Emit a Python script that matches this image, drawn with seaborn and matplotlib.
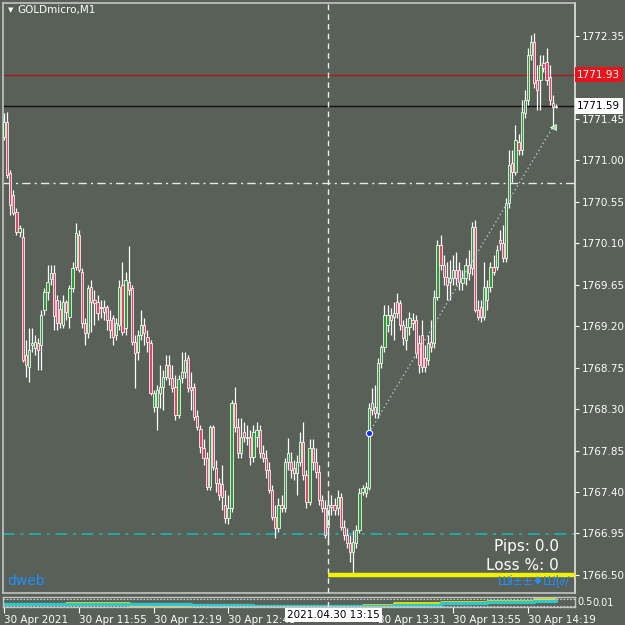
import matplotlib
matplotlib.use("Agg")
import matplotlib.pyplot as plt
import numpy as np
import pandas as pd
import seaborn as sns

# ---- candle data (GOLDmicro, M1, 30 Apr 2021 from 11:31) ----
opens = [
    1771.25, 1771.42, 1770.86, 1770.62, 1770.44, 1770.22, 1770.17, 1768.89, 1768.76, 1769.00,
    1768.96, 1769.02, 1769.00, 1769.38, 1769.57, 1769.71, 1769.78, 1769.48, 1769.39, 1769.21,
    1769.46, 1769.30, 1769.61, 1769.84, 1770.19, 1769.79, 1769.23, 1769.13, 1769.63, 1769.48,
    1769.46, 1769.41, 1769.41, 1769.41, 1769.27, 1769.29, 1769.10, 1769.21, 1769.65, 1769.18,
    1769.68, 1769.61, 1769.03, 1768.92, 1769.10, 1769.21, 1769.08, 1769.02, 1768.32, 1768.32,
    1768.47, 1768.54, 1768.65, 1768.78, 1768.64, 1768.54, 1768.24, 1768.64, 1768.70, 1768.85,
    1768.54, 1768.54, 1768.23, 1768.08, 1767.88, 1767.77, 1767.45, 1768.11, 1767.66, 1767.50,
    1767.49, 1767.26, 1767.12, 1767.23, 1768.37, 1768.11, 1767.82, 1768.05, 1768.00, 1768.00,
    1767.78, 1768.00, 1768.07, 1767.82, 1767.77, 1767.64, 1767.42, 1767.13, 1767.01, 1767.26,
    1767.23, 1767.73, 1767.73, 1767.66, 1767.61, 1767.73, 1767.94, 1767.59, 1767.29, 1767.88,
    1767.73, 1767.62, 1767.31, 1767.23, 1767.02, 1767.26, 1767.26, 1767.23, 1767.35, 1767.02,
    1766.93, 1766.85, 1766.75, 1766.85, 1766.99, 1767.40, 1767.39, 1767.44, 1768.29, 1768.32,
    1768.26, 1768.80, 1768.97, 1769.21, 1769.32, 1769.30, 1769.46, 1769.45, 1769.21, 1769.05,
    1769.19, 1769.27, 1769.27, 1769.02, 1769.10, 1768.85, 1768.83, 1769.03, 1769.02, 1769.52,
    1770.08, 1769.86, 1769.73, 1769.68, 1769.72, 1769.81, 1769.81, 1769.67, 1769.72, 1769.86,
    1769.83, 1770.28, 1769.38, 1769.41, 1769.30, 1769.48, 1769.63, 1769.84, 1769.84, 1770.14,
    1770.10, 1769.94, 1770.54, 1770.97, 1770.87, 1771.20, 1771.11, 1771.51, 1771.65, 1772.14,
    1772.28, 1771.87, 1771.87, 1772.06, 1772.07, 1771.90, 1771.62, 1771.58,
]
closes = [
    1771.42, 1770.84, 1770.52, 1770.43, 1770.22, 1770.27, 1768.83, 1768.78, 1768.94, 1769.02,
    1769.03, 1768.94, 1769.32, 1769.57, 1769.68, 1769.78, 1769.31, 1769.23, 1769.23, 1769.46,
    1769.35, 1769.61, 1769.83, 1770.21, 1769.81, 1769.23, 1769.13, 1769.61, 1769.46, 1769.45,
    1769.34, 1769.40, 1769.35, 1769.27, 1769.16, 1769.08, 1769.23, 1769.63, 1769.14, 1769.70,
    1769.59, 1769.03, 1768.91, 1769.10, 1769.21, 1769.13, 1769.03, 1768.47, 1768.47, 1768.51,
    1768.54, 1768.65, 1768.78, 1768.64, 1768.53, 1768.24, 1768.63, 1768.70, 1768.83, 1768.53,
    1768.51, 1768.21, 1768.11, 1767.89, 1767.77, 1767.45, 1768.11, 1767.67, 1767.50, 1767.37,
    1767.35, 1767.12, 1767.23, 1768.37, 1768.11, 1767.82, 1768.00, 1768.00, 1767.99, 1767.78,
    1768.05, 1768.07, 1767.82, 1767.77, 1767.64, 1767.42, 1767.13, 1767.01, 1767.26, 1767.23,
    1767.73, 1767.82, 1767.64, 1767.61, 1767.73, 1767.94, 1767.59, 1767.29, 1767.88, 1767.73,
    1767.62, 1767.31, 1767.23, 1766.93, 1767.26, 1767.24, 1767.21, 1767.35, 1767.02, 1766.93,
    1766.85, 1766.75, 1766.86, 1766.99, 1767.39, 1767.44, 1767.45, 1768.31, 1768.37, 1768.26,
    1768.80, 1768.97, 1769.32, 1769.32, 1769.27, 1769.34, 1769.34, 1769.21, 1769.07, 1769.19,
    1769.29, 1769.23, 1768.91, 1768.78, 1768.76, 1768.76, 1769.02, 1768.97, 1769.52, 1770.08,
    1769.86, 1769.73, 1769.65, 1769.72, 1769.81, 1769.72, 1769.68, 1769.72, 1769.86, 1769.78,
    1770.28, 1769.38, 1769.30, 1769.30, 1769.63, 1769.63, 1769.84, 1769.79, 1770.03, 1770.10,
    1769.94, 1770.54, 1770.95, 1770.87, 1771.22, 1771.11, 1771.52, 1771.65, 1772.14, 1772.28,
    1771.84, 1771.76, 1772.03, 1772.00, 1771.87, 1771.65, 1771.58, 1771.59,
]
highs = [
    1771.51, 1771.52, 1770.90, 1770.68, 1770.48, 1770.30, 1770.27, 1769.05, 1769.18, 1769.18,
    1769.10, 1769.07, 1769.38, 1769.61, 1769.86, 1769.86, 1769.86, 1769.54, 1769.48, 1769.54,
    1769.48, 1769.65, 1769.90, 1770.32, 1770.24, 1769.83, 1769.29, 1769.65, 1769.70, 1769.59,
    1769.54, 1769.48, 1769.48, 1769.43, 1769.38, 1769.32, 1769.29, 1769.70, 1769.90, 1769.79,
    1770.07, 1769.65, 1769.10, 1769.16, 1769.38, 1769.29, 1769.16, 1769.05, 1768.51, 1768.56,
    1768.78, 1768.72, 1768.89, 1768.89, 1768.78, 1768.67, 1768.67, 1768.92, 1768.92, 1768.89,
    1768.70, 1768.58, 1768.29, 1768.13, 1767.97, 1767.83, 1768.13, 1768.13, 1767.75, 1767.55,
    1767.69, 1767.42, 1767.37, 1768.40, 1768.54, 1768.20, 1768.20, 1768.16, 1768.13, 1768.07,
    1768.13, 1768.16, 1768.13, 1767.91, 1767.86, 1767.73, 1767.48, 1767.26, 1767.34, 1767.37,
    1767.77, 1767.99, 1767.83, 1767.75, 1767.80, 1768.05, 1768.16, 1767.64, 1767.97, 1767.97,
    1767.88, 1767.69, 1767.37, 1767.31, 1767.37, 1767.37, 1767.34, 1767.42, 1767.39, 1767.10,
    1767.01, 1766.93, 1766.99, 1767.04, 1767.44, 1767.48, 1767.51, 1768.37, 1768.53, 1768.56,
    1768.85, 1769.00, 1769.43, 1769.43, 1769.40, 1769.46, 1769.56, 1769.48, 1769.27, 1769.29,
    1769.35, 1769.34, 1769.32, 1769.10, 1769.27, 1769.00, 1769.10, 1769.27, 1769.59, 1770.14,
    1770.19, 1769.97, 1769.90, 1769.92, 1769.97, 1770.01, 1769.90, 1769.81, 1769.94, 1770.03,
    1770.33, 1770.35, 1769.48, 1769.48, 1769.90, 1769.70, 1769.90, 1769.97, 1770.08, 1770.24,
    1770.30, 1770.59, 1771.11, 1771.11, 1771.38, 1771.28, 1771.65, 1771.76, 1772.22, 1772.36,
    1772.38, 1772.03, 1772.14, 1772.14, 1772.22, 1772.03, 1771.71, 1771.61,
]
lows = [
    1771.22, 1770.81, 1770.41, 1770.41, 1770.19, 1770.17, 1768.81, 1768.65, 1768.59, 1768.92,
    1768.89, 1768.72, 1768.72, 1769.32, 1769.48, 1769.65, 1769.16, 1769.16, 1769.18, 1769.18,
    1769.27, 1769.18, 1769.57, 1769.81, 1769.79, 1769.18, 1769.00, 1769.07, 1769.14, 1769.21,
    1769.27, 1769.29, 1769.27, 1769.16, 1769.07, 1769.00, 1769.05, 1769.16, 1769.10, 1769.10,
    1769.54, 1769.00, 1768.53, 1768.83, 1769.05, 1769.00, 1768.92, 1768.45, 1768.27, 1768.07,
    1768.31, 1768.29, 1768.62, 1768.56, 1768.49, 1768.18, 1768.20, 1768.58, 1768.64, 1768.49,
    1768.29, 1768.18, 1768.07, 1767.82, 1767.69, 1767.42, 1767.42, 1767.64, 1767.40, 1767.31,
    1767.21, 1767.06, 1767.05, 1767.18, 1768.05, 1767.77, 1767.77, 1767.94, 1767.91, 1767.69,
    1767.73, 1767.89, 1767.77, 1767.73, 1767.55, 1767.39, 1767.10, 1766.90, 1766.97, 1767.18,
    1767.18, 1767.64, 1767.55, 1767.53, 1767.37, 1767.68, 1767.53, 1767.23, 1767.26, 1767.64,
    1767.55, 1767.26, 1767.18, 1766.90, 1766.83, 1767.15, 1767.15, 1767.15, 1766.99, 1766.88,
    1766.79, 1766.64, 1766.52, 1766.79, 1766.96, 1767.37, 1767.35, 1767.42, 1768.24, 1768.20,
    1768.20, 1768.75, 1768.92, 1769.14, 1769.10, 1769.05, 1769.29, 1769.16, 1769.00, 1768.94,
    1769.10, 1769.16, 1768.85, 1768.69, 1768.70, 1768.70, 1768.78, 1768.92, 1768.96, 1769.48,
    1769.81, 1769.65, 1769.48, 1769.48, 1769.65, 1769.65, 1769.59, 1769.59, 1769.65, 1769.70,
    1769.76, 1769.35, 1769.27, 1769.25, 1769.27, 1769.38, 1769.57, 1769.75, 1769.81, 1770.03,
    1769.90, 1769.90, 1770.48, 1770.76, 1770.84, 1771.06, 1771.06, 1771.46, 1771.60, 1772.09,
    1771.78, 1771.55, 1771.55, 1771.96, 1771.82, 1771.60, 1771.35, 1771.57,
]
start_time = "2021-04-30 11:31"

# time axis labels
tick_times = ["11:31", "11:55", "12:19", "12:43", "13:31", "13:55", "14:19"]
tick_labels = ["30 Apr 2021", "30 Apr 11:55", "30 Apr 12:19", "30 Apr 12:43",
               "30 Apr 13:31", "30 Apr 13:55", "30 Apr 14:19"]
price_ticks = [1766.50, 1766.95, 1767.40, 1767.85, 1768.30, 1768.75, 1769.20,
               1769.65, 1770.10, 1770.55, 1771.00, 1771.45, 1771.90, 1772.35]

# chart objects
vline_time = "13:15"
ask_level = 1771.93
bid_level = 1771.59
white_level = 1770.75
teal_level = 1766.945
yellow_level = 1766.50
trend_times = ["13:28", "14:27"]
trend_prices = [1768.04, 1771.36]

# indicator sub-window (two lines)
ind_times = ["11:31", "11:51", "12:11", "12:31", "12:51", "13:11", "13:26",
             "13:36", "13:51", "14:06", "14:21", "14:28"]
ind_teal = [0.35, 0.35, 0.30, 0.20, 0.15, 0.10, 0.12, 0.25, 0.40, 0.50, 0.60, 0.70]
ind_yellow = [0.30, 0.45, 0.25, 0.15, 0.10, 0.10, 0.20, 0.45, 0.50, 0.60, 0.85, 0.75]

BG = "#586057"
FRAME = "#c4c4c4"
W, H = 625, 625

sns.set_theme(style="dark", rc={"axes.facecolor": BG, "figure.facecolor": BG,
                                "axes.edgecolor": FRAME, "axes.grid": False})
plt.rcParams["font.family"] = ["DejaVu Sans"]

times = pd.date_range(start_time, periods=len(closes), freq="min")
df = pd.DataFrame({"t": times, "open": opens, "high": highs, "low": lows, "close": closes})
df["x"] = np.arange(len(df))
day = start_time[:10] + " "


def tx(hhmm):
    return times.get_loc(pd.Timestamp(day + hhmm))


fig = plt.figure(figsize=(W / 100, H / 100), dpi=100)
XMAX = 183.1
ax = fig.add_axes([3 / W, 1 - 593 / H, 572 / W, 590 / H])
axi = fig.add_axes([3 / W, 1 - 607 / H, 572 / W, 10 / H])

# candles
up = df["close"] >= df["open"]
ax.vlines(df["x"], df["low"], df["high"], color="white", lw=0.9, zorder=3)
body_lo = np.minimum(df["open"], df["close"])
body_h = np.maximum((df["close"] - df["open"]).abs(), 0.012)
ax.bar(df["x"], body_h, bottom=body_lo, width=0.72,
       color=np.where(up, "#2f9a36", "#e2456c"), edgecolor="white",
       linewidth=0.55, zorder=4)

# horizontal levels
ax.axhline(ask_level, color="#b01818", lw=0.9, zorder=2)
ax.axhline(bid_level, color="#111111", lw=1.0, zorder=2)
ax.axhline(white_level, color="#e8e8e8", lw=1.0, ls=(0, (6, 3, 1.5, 3)), zorder=2)
ax.axhline(teal_level, color="#22aaa6", lw=1.4, ls=(0, (6, 3, 1.5, 3)), zorder=2)
vx = tx(vline_time)
for a in (ax, axi):
    a.axvline(vx, color="#eeeeee", lw=1.0, ls=(0, (4, 3)), zorder=5)
ax.hlines(yellow_level, vx, XMAX, color="#f2f200", lw=3.2, zorder=6)

# trend line with markers
tr = pd.DataFrame({"x": [tx(t) for t in trend_times], "y": trend_prices})
sns.lineplot(data=tr, x="x", y="y", ax=ax, color="#a8cce0", lw=1.0,
             linestyle=(0, (1, 2)), zorder=7)
ax.plot(tr["x"].iloc[0], tr["y"].iloc[0], marker="o", ms=4.5, color="#1030ff",
        mec="white", mew=0.8, zorder=8)
ax.plot(tr["x"].iloc[1], tr["y"].iloc[1], marker="<", ms=5, color="#90e890",
        mec="white", mew=0.5, zorder=8)

ax.set_xlim(-0.3, XMAX)
ax.set_ylim(1766.304, 1772.707)
ax.set_xticks([])
ax.yaxis.tick_right()
ax.set_yticks(price_ticks)
# the 1771.90 label sits under the red ask box, as in the terminal
ax.set_yticklabels(["" if abs(p - ask_level) < 0.1 else f"{p:.2f}" for p in price_ticks])
ax.tick_params(axis="y", colors="white", labelcolor="white", labelsize=7.5,
               length=3, width=0.8, pad=2, direction="out", right=True)
ax.set_xlabel("")
ax.set_ylabel("")
for s in ax.spines.values():
    s.set_color(FRAME)
    s.set_linewidth(1.2)
ax.spines["right"].set_color("#e6e6e6")

# price labels on the right
ax.text(1.004, ask_level, "1771.93", transform=ax.get_yaxis_transform(),
        color="white", fontsize=7.5, va="center", ha="left", clip_on=False,
        bbox=dict(boxstyle="square,pad=0.25", fc="#e8141c", ec="none"), zorder=10)
ax.text(1.004, bid_level, "1771.59", transform=ax.get_yaxis_transform(),
        color="black", fontsize=7.5, va="center", ha="left", clip_on=False,
        bbox=dict(boxstyle="square,pad=0.25", fc="white", ec="none"), zorder=10)

# indicator sub-window
ind = pd.DataFrame({"x": [tx(t) for t in ind_times], "teal": ind_teal, "yellow": ind_yellow})
sns.lineplot(data=ind, x="x", y="yellow", ax=axi, color="#e8e800", lw=2.0,
             drawstyle="steps-post")
sns.lineplot(data=ind, x="x", y="teal", ax=axi, color="#2ec8c8", lw=2.4,
             drawstyle="steps-post")
axi.axhline(0.82, color="#d0d0d0", lw=0.8, ls=(0, (1.5, 1.5)))
axi.axhline(0.08, color="#d0d0d0", lw=0.8, ls=(0, (1.5, 1.5)))
axi.set_xlim(-0.3, XMAX)
axi.set_ylim(0, 1)
axi.set_yticks([])
axi.set_xlabel("")
axi.set_ylabel("")
axi.set_xticks([tx(t) for t in tick_times])
axi.set_xticklabels(tick_labels, ha="left")
axi.tick_params(axis="x", colors="white", labelcolor="white", labelsize=7.5,
                length=4, width=0.8, pad=2, direction="out", bottom=True)
for s in axi.spines.values():
    s.set_color(FRAME)
    s.set_linewidth(1.0)
axi.text(1.004, 0.5, "0.5", transform=axi.transAxes, color="white",
         fontsize=7, va="center", ha="left", clip_on=False)
axi.text(1.03, 0.45, "0.01", transform=axi.transAxes, color="white",
         fontsize=7, va="center", ha="left", clip_on=False)

# crosshair time label
fig.text(287 / W, 1 - 615 / H, "2021.04.30 13:15", color="black", fontsize=7.5,
         va="center", ha="left",
         bbox=dict(boxstyle="square,pad=0.2", fc="white", ec="none"), zorder=10)

# overlay texts
fig.text(8 / W, 1 - 10 / H, "\u25bc", color="white", fontsize=5, va="center", ha="left")
fig.text(17 / W, 1 - 10 / H, "GOLDmicro,M1", color="white", fontsize=7.5, va="center", ha="left")
fig.text(559 / W, 1 - 546 / H, "Pips: 0.0", color="white", fontsize=11, va="center", ha="right")
fig.text(559 / W, 1 - 566 / H, "Loss %: 0", color="white", fontsize=11, va="center", ha="right")
fig.text(7 / W, 1 - 581 / H, "dweb", color="#1e90ff", fontsize=10, va="center", ha="left")
fig.text(570 / W, 1 - 581 / H, "\u0428\u0268\u00b1\u00b1\u2666\u0428\u026d\u2202/",
         color="#1e90ff", fontsize=8.5, va="center", ha="right")

fig.savefig("out.png", dpi=100, facecolor=BG)
